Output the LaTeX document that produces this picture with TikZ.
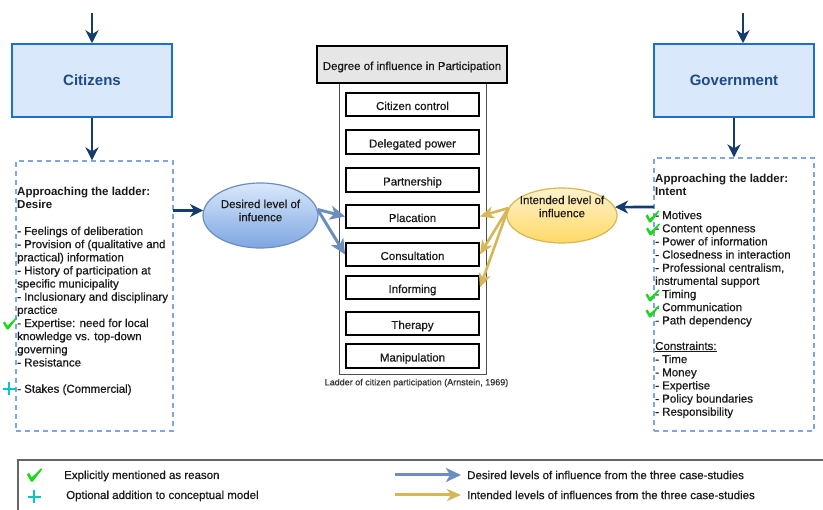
\documentclass[tikz,border=0pt]{standalone}
\usepackage{fontspec}
\setmainfont{Liberation Sans}[UprightFeatures={FakeBold=0.6}]
\usetikzlibrary{shapes.geometric,arrows.meta}
\definecolor{navy}{HTML}{143D6E}
\definecolor{actorfill}{HTML}{DAE8FC}
\definecolor{actorline}{HTML}{1C6FCF}
\definecolor{actortext}{HTML}{1E4B87}
\definecolor{dashblue}{HTML}{7EA6E0}
\definecolor{titlefill}{HTML}{E6E6E6}
\definecolor{framegrey}{HTML}{4D4D4D}
\definecolor{desline}{HTML}{6C8EBF}
\definecolor{destop}{HTML}{DAE8FC}
\definecolor{desbot}{HTML}{7EA6E0}
\definecolor{intline}{HTML}{D6B656}
\definecolor{inttop}{HTML}{FFF2CC}
\definecolor{intbot}{HTML}{FFD966}
\definecolor{bluearr}{HTML}{6C8EBF}
\definecolor{yelarr}{HTML}{D6B656}
\definecolor{chkgreen}{HTML}{1ED81E}
\definecolor{pluscyan}{HTML}{00C8C8}
\definecolor{txtcol}{HTML}{1A1A1A}
\definecolor{capgrey}{HTML}{333333}
\definecolor{leggrey}{HTML}{666666}
\begin{document}
\begin{tikzpicture}[x=1pt,y=-1pt,
  fs/.style={font=\fontsize{11.5}{13.15}\selectfont, text=txtcol},
  actor/.style={draw=actorline, fill=actorfill, line width=1.5pt, minimum width=160pt, minimum height=73pt, inner sep=0pt, font=\fontsize{15}{18}\bfseries\selectfont, text=actortext},
  dbox/.style={draw=dashblue, line width=1.2pt, dash pattern=on 5pt off 4pt, inner sep=0pt},
  txtblock/.style={fs, align=left, anchor=north west, inner sep=0pt},
  ladtitle/.style={fs, draw=black, line width=1.5pt, fill=titlefill, minimum width=190pt, minimum height=37pt, inner sep=0pt, text height=11pt, text depth=0pt},
  ladframe/.style={draw=framegrey, line width=1pt, minimum width=147pt, minimum height=292pt, inner sep=0pt},
  rung/.style={fs, draw=black, line width=1.8pt, fill=white, minimum width=133pt, minimum height=23.5pt, inner sep=0pt, text height=11pt, text depth=0pt},
  navyarr/.style={draw=navy, line width=2.6pt, -{Stealth[length=13pt,width=13pt,inset=4pt]}},
  desarr/.style={draw=bluearr, line width=3pt, -{Stealth[length=15pt,width=14pt,inset=4pt]}},
  yelarrow/.style={draw=yelarr, line width=2.6pt, -{Stealth[length=14pt,width=12pt,inset=4pt]}},
  chk/.pic={\fill[chkgreen] (-7,-0.5) -- (-5,-2) -- (-2.5,2.2) -- (6,-6) -- (7,-5.2) -- (-1.5,6) -- (-3.2,6) -- cycle;},
  plus/.pic={\draw[pluscyan, line width=2pt] (-6.5,0) -- (6.5,0) (0,-6.5) -- (0,6.5);}
]
\useasboundingbox (0,0) rectangle (823,510);
\fill[white] (0,0) rectangle (823,510);

% actors
\node[actor] (cit) at (92,80.5) {Citizens};
\node[actor] (gov) at (734,80.5) {Government};

% dashed boxes
\node[dbox, minimum width=157pt, minimum height=270pt] (lbox) at (94.5,296) {};
\node[dbox, minimum width=160pt, minimum height=273pt] (rbox) at (734,294.5) {};

\node[txtblock] (ltxt) at (17,187) {\textbf{Approaching the ladder:}\\\textbf{Desire}\\[13.15pt]- Feelings of deliberation\\- Provision of (qualitative and\\practical) information\\- History of participation at\\specific municipality\\- Inclusionary and disciplinary\\practice\\- Expertise: need for local\\knowledge vs. top-down\\governing\\- Resistance\\[13.15pt]- Stakes (Commercial)};

\node[txtblock] (rtxt) at (655,173.5) {\textbf{Approaching the ladder:}\\\textbf{Intent}\\[10.8pt]- Motives\\- Content openness\\- Power of information\\- Closedness in interaction\\- Professional centralism,\\instrumental support\\- Timing\\- Communication\\- Path dependency\\[12.5pt]\underline{Constraints:}\\- Time\\- Money\\- Expertise\\- Policy boundaries\\- Responsibility};

% vertical arrows
\coordinate (ct) at (92,13);
\coordinate (gt) at (743,13);
\draw[navyarr] (ct) -- (cit.north);
\draw[navyarr] (cit.south) -- (cit.south |- lbox.north);
\draw[navyarr] (gt) -- (gt |- gov.north);
\draw[navyarr] (gov.south) -- (gov.south |- rbox.north);

% ladder
\node[ladframe] (frame) at (412.5,229) {};
\node[ladtitle] (title) at (412,64.5) {Degree of influence in Participation};
\node[rung] (r1) at (412.5,104.5) {Citizen control};
\node[rung] (r2) at (412.5,142) {Delegated power};
\node[rung] (r3) at (412.5,180) {Partnership};
\node[rung] (r4) at (412.5,216.5) {Placation};
\node[rung] (r5) at (412.5,254.5) {Consultation};
\node[rung] (r6) at (412.5,287.5) {Informing};
\node[rung] (r7) at (412.5,323.5) {Therapy};
\node[rung] (r8) at (412.5,356) {Manipulation};
\node[font=\fontsize{9}{11}\selectfont, text=capgrey, inner sep=0pt] (cap) at (416.5,383) {Ladder of citizen participation (Arnstein, 1969)};

% ellipses
\node[ellipse, draw=desline, line width=1.2pt, top color=destop, bottom color=desbot, minimum width=115pt, minimum height=65pt, inner sep=0pt] (des) at (260.5,215.5) {};
\node[fs, align=center, inner sep=0pt] (destxt) at ([yshift=5pt]des.center) {Desired level of\\infuence};
\node[ellipse, draw=intline, line width=1.2pt, top color=inttop, bottom color=intbot, minimum width=110pt, minimum height=55pt, inner sep=0pt] (int) at (562,215.5) {};
\node[fs, align=center, inner sep=0pt] (inttxt) at ([yshift=9pt]int.center) {Intended level of\\influence};

% horizontal navy arrows
\coordinate (lo) at (173,210.5);
\coordinate (ri) at (654,207);
\draw[navyarr] (lo) -- (des.175);
\draw[navyarr] (ri) -- (int.9);

% influence arrows
\draw[desarr] (des.6) -- (r4.west);
\draw[desarr] (des.6) -- (r5.west);
\draw[yelarrow] (int.172) -- (r4.east);
\draw[yelarrow] (int.172) -- (r5.east);
\draw[yelarrow] (int.172) -- (r6.east);

% marks
\pic at (10,323.5) {chk};
\pic at (9,389) {plus};
\pic at (652.5,216.5) {chk};
\pic at (653,229.5) {chk};
\pic at (652.5,295.5) {chk};
\pic at (652.5,311.5) {chk};

% legend
\draw[leggrey, line width=1.5pt] (824,460) -- (18,460) -- (18,511);
\pic[scale=1.1] at (34.5,475) {chk};
\pic at (34,497) {plus};
\node[fs, anchor=west, inner sep=0pt] (lg1) at (64,476) {Explicitly mentioned as reason};
\node[fs, anchor=west, inner sep=0pt] (lg2) at (66,496) {Optional addition to conceptual model};
\node[fs, anchor=west, inner sep=0pt] (lg3) at (467,475) {Desired levels of influence from the three case-studies};
\node[fs, anchor=west, inner sep=0pt] (lg4) at (467,495) {Intended levels of influences from the three case-studies};
\coordinate (la1) at (395,475);
\coordinate (la2) at (395,495);
\draw[desarr, shorten >=6pt] (la1) -- (lg3.west);
\draw[yelarrow, line width=3pt, shorten >=6pt] (la2) -- (lg4.west);
\end{tikzpicture}
\end{document}
